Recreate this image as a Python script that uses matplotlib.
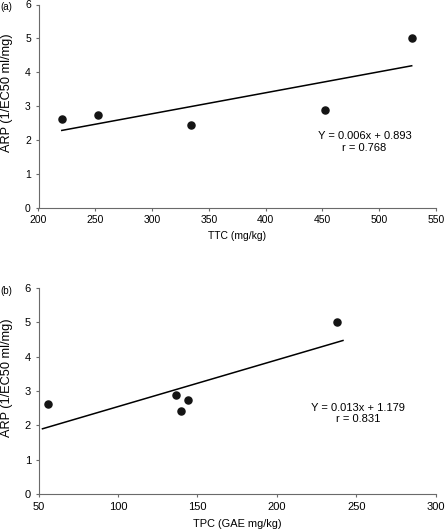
import numpy as np
import matplotlib
matplotlib.use("Agg")
import matplotlib.pyplot as plt

plt.rcParams['font.family'] = ['Liberation Sans', 'DejaVu Sans']

# Panel (a)
ttc = [220.5, 252.6, 334.0, 452.0, 528.6]
arp_a = [2.61, 2.73, 2.43, 2.87, 5.0]
eq_a = "Y = 0.006x + 0.893\nr = 0.768"

# Panel (b)
tpc = [55.9, 136.7, 139.4, 144.0, 237.9]
arp_b = [2.61, 2.87, 2.43, 2.73, 5.0]
eq_b = "Y = 0.013x + 1.179\nr = 0.831"
line_b_range = [52.5, 241.5]

yticks = [0, 1, 2, 3, 4, 5, 6]
xticks_a = [200, 250, 300, 350, 400, 450, 500, 550]
xticks_b = [50, 100, 150, 200, 250, 300]

fig = plt.figure(figsize=(4.45, 5.31), dpi=100)
W, H = 445, 531

def make_ax(top_px, bottom_px):
    left, right = 38.5, 436
    return fig.add_axes([left / W, (H - bottom_px) / H, (right - left) / W, (bottom_px - top_px) / H])

ax1 = make_ax(4.5, 207.5)
ax2 = make_ax(288, 494)

def style(ax, xticks, xlabel, xpad, tsize, lsize):
    ax.set_ylim(0, 6)
    ax.set_yticks(yticks)
    ax.set_xlim(xticks[0], xticks[-1])
    ax.set_xticks(xticks)
    for s in ['top', 'right']:
        ax.spines[s].set_visible(False)
    for s in ['left', 'bottom']:
        ax.spines[s].set_color('#6a6a6a')
        ax.spines[s].set_linewidth(0.8)
    ax.tick_params(axis='both', labelsize=tsize, length=2.5, width=0.8, color='#6a6a6a', pad=3)
    ax.set_xlabel(xlabel, fontsize=lsize, labelpad=xpad)
    ax.set_ylabel("ARP (1/EC50 ml/mg)", fontsize=9.2)
    ax.yaxis.set_label_coords(-0.064, 0.565)

# (a)
ax1.scatter(ttc, arp_a, s=26, color='#141414', zorder=3)
pa = np.polyfit(ttc, arp_a, 1)
xa = np.array([min(ttc), max(ttc)])
ax1.plot(xa, np.polyval(pa, xa), color='black', lw=1.1)
ax1.text(487, 1.93, eq_a, ha='center', va='center', multialignment='center', fontsize=8, linespacing=1.2)
style(ax1, xticks_a, "TTC (mg/kg)", 4.5, 7.5, 7.5)

# (b)
ax2.scatter(tpc, arp_b, s=26, color='#141414', zorder=3)
pb = np.polyfit(tpc, arp_b, 1)
xb = np.array(line_b_range)
ax2.plot(xb, np.polyval(pb, xb), color='black', lw=1.1)
ax2.text(251, 2.34, eq_b, ha='center', va='center', multialignment='center', fontsize=8, linespacing=1.2)
style(ax2, xticks_b, "TPC (GAE mg/kg)", 5, 8, 7.9)

fig.text(0 / W, 1 - 6.5 / H, "(a)", fontsize=7, ha='left', va='center')
fig.text(0 / W, 1 - 290.5 / H, "(b)", fontsize=7, ha='left', va='center')

fig.savefig("out.png", dpi=100)
